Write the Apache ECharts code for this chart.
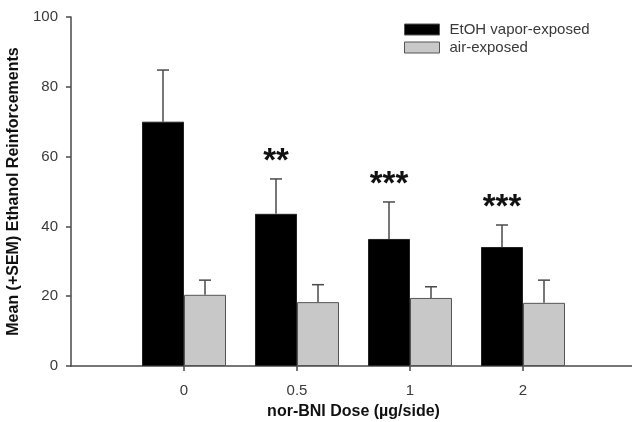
<!DOCTYPE html>
<html>
<head>
<meta charset="utf-8">
<script src="https://cdn.jsdelivr.net/npm/echarts@6/dist/echarts.min.js"></script>
<style>
  html, body { margin: 0; padding: 0; background: #fff; }
  #chart { width: 632px; height: 422px; }
</style>
</head>
<body>
<div id="chart"></div>
<script>
// nor-BNI dose groups
const doses = ['0', '0.5', '1', '2']
// EtOH vapor-exposed: mean and mean+SEM
const etohMean = [70, 43.6, 36.4, 34.1]
const etohTop = [84.8, 53.6, 47, 40.4]
// air-exposed: mean and mean+SEM
const airMean = [20.4, 18.3, 19.5, 18.1]
const airTop = [24.6, 23.3, 22.7, 24.6]
// significance marks above the EtOH bars
const stars = ['', '**', '***', '***']
const yTicks = [0, 20, 40, 60, 80, 100]

// empty slot at each end so the doses sit inside the axis
const cats = [''].concat(doses, [''])
const pad = arr => ['-'].concat(arr, ['-'])

const axisColor = '#4a4a4a'
const textColor = '#3a3a3a'
const barW = 42

const chart = echarts.init(document.getElementById('chart'))

function errData(mean, top, marks) {
  return mean.map((m, i) => [i + 1, m, top[i], marks ? marks[i] : ''])
}

function errorBars(offset) {
  return function (params, api) {
    const x = api.value(0)
    const p0 = api.coord([x, api.value(1)])
    const p1 = api.coord([x, api.value(2)])
    const cx = p0[0] + offset
    const style = { stroke: axisColor, lineWidth: 1.5 }
    const children = [
      { type: 'line', shape: { x1: cx, y1: p0[1], x2: cx, y2: p1[1] }, style: style },
      { type: 'line', shape: { x1: cx - 6, y1: p1[1], x2: cx + 6, y2: p1[1] }, style: style }
    ]
    const mark = api.value(3)
    if (mark) {
      children.push({
        type: 'text',
        x: cx, y: p1[1] - 1,
        style: {
          text: mark, fill: '#111', align: 'center', verticalAlign: 'bottom',
          font: 'bold 33px "Liberation Sans", Arial, sans-serif'
        }
      })
    }
    return { type: 'group', children: children }
  }
}

const option = {
  animation: false,
  textStyle: { fontFamily: '"Liberation Sans", Arial, sans-serif' },
  grid: { left: 71, top: 17, width: 565, height: 349, outerBoundsMode: 'none' },
  legend: {
    left: 399, top: 17,
    orient: 'vertical',
    icon: 'rect',
    itemWidth: 35, itemHeight: 11, itemGap: 3,
    textStyle: { color: textColor, fontSize: 15, padding: [0, 0, 0, 5] },
    itemStyle: { borderColor: '#555', borderWidth: 1 },
    data: ['EtOH vapor-exposed', 'air-exposed']
  },
  xAxis: {
    type: 'category',
    data: cats,
    boundaryGap: false,
    name: 'nor-BNI Dose (µg/side)',
    nameLocation: 'middle',
    nameGap: 38,
    nameTextStyle: { color: '#111', fontSize: 16, fontWeight: 'bold' },
    axisLine: { lineStyle: { color: axisColor, width: 1.5 } },
    axisTick: { length: 5, lineStyle: { color: axisColor, width: 1.5 },
      interval: i => i >= 1 && i <= doses.length },
    axisLabel: { color: textColor, fontSize: 15, margin: 17 },
    splitLine: { show: false }
  },
  yAxis: {
    type: 'value',
    min: yTicks[0], max: yTicks[yTicks.length - 1], interval: 20,
    name: 'Mean (+SEM) Ethanol Reinforcements',
    nameLocation: 'middle',
    nameGap: 49,
    nameTextStyle: { color: '#111', fontSize: 16, fontWeight: 'bold' },
    axisLine: { show: true, lineStyle: { color: axisColor, width: 1.5 } },
    axisTick: { show: true, length: 5, lineStyle: { color: axisColor, width: 1.5 } },
    axisLabel: { color: textColor, fontSize: 15, margin: 13 },
    splitLine: { show: false }
  },
  series: [
    {
      name: 'EtOH vapor-exposed', type: 'bar', data: pad(etohMean),
      barWidth: barW, barGap: '0%',
      itemStyle: { color: '#000', borderColor: '#222', borderWidth: 1 }
    },
    {
      name: 'air-exposed', type: 'bar', data: pad(airMean),
      barWidth: barW, barGap: '0%',
      itemStyle: { color: '#c8c8c8', borderColor: '#555', borderWidth: 1 }
    },
    {
      type: 'custom', renderItem: errorBars(-barW / 2),
      data: errData(etohMean, etohTop, stars), z: 5
    },
    {
      type: 'custom', renderItem: errorBars(barW / 2),
      data: errData(airMean, airTop), z: 5
    }
  ]
}
chart.setOption(option)
</script>
</body>
</html>
